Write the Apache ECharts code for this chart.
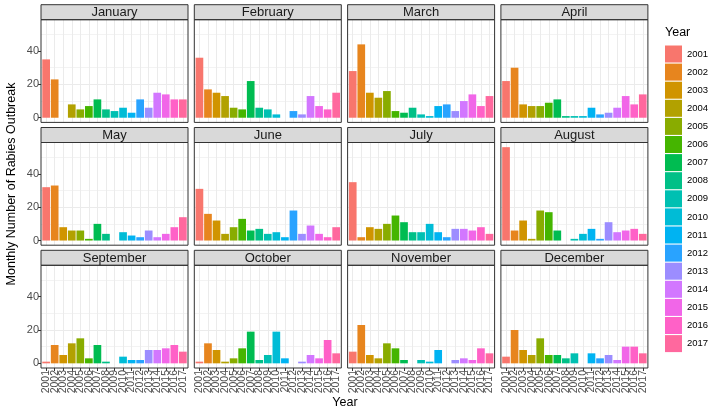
<!DOCTYPE html>
<html>
<head>
<meta charset="utf-8">
<script src="https://cdn.jsdelivr.net/npm/echarts@6/dist/echarts.min.js"></script>
<style>html,body{margin:0;padding:0;background:#fff}#c{width:710px;height:412px}</style>
</head>
<body>
<div id="c"></div>
<script>
// ---------- data ----------
const years = ['2001','2002','2003','2004','2005','2006','2007','2008','2009','2010','2011','2012','2013','2014','2015','2016','2017'];
const months = ['January','February','March','April','May','June','July','August','September','October','November','December'];
const january   = [35,23,0,8,5,7,11,5,4,6,3,11,6,15,14,11,11];
const february  = [36,17,15,13,6,5,22,6,5,2,0,4,2,13,7,5,15];
const march     = [28,44,15,12,16,4,3,6,2,1,7,8,4,10,14,7,13];
const april     = [22,30,8,7,7,9,11,1,1,1,6,2,3,6,13,8,14];
const may       = [32,33,8,6,6,1,10,4,0,5,3,2,6,2,4,8,14];
const june      = [31,16,12,4,8,13,6,7,4,5,2,18,4,9,4,2,8];
const july      = [35,2,8,7,10,15,11,5,5,10,5,2,7,7,6,8,4];
const august    = [56,6,12,1,18,17,6,0,1,4,7,1,11,5,6,7,4];
const september = [1,11,5,12,15,3,11,1,0,4,2,2,8,8,9,11,7];
const october   = [1,12,8,1,3,9,19,2,5,19,3,0,1,5,3,14,6];
const november  = [7,23,5,3,12,9,2,0,2,1,8,0,2,3,2,9,6];
const december  = [4,20,8,5,15,5,5,3,6,0,6,3,5,2,10,10,6];
const monthValues = [january,february,march,april,may,june,july,august,september,october,november,december];
const yTickValues = [0,20,40];

// ---------- style / layout ----------
const FONT = 'Liberation Sans, Arial, Helvetica, sans-serif';
const P = {left0:41, pitchX:153.3, width:147, top0:19.7, pitchY:122.8, height:102.7, strip:15};
const X_MIN = 0.4, X_MAX = 17.6;            // ggplot discrete expansion (0.6 each side)
const UNIT = P.width / (X_MAX - X_MIN);

function hclColor(h, c, l) {
  const WY = 100, Wu = 0.1978398, Wv = 0.4683363;
  const hr = h * Math.PI / 180;
  const U = c * Math.cos(hr), V = c * Math.sin(hr);
  const Y = WY * (l > 7.999592 ? Math.pow((l + 16) / 116, 3) : l / 903.3);
  const u = U / (13 * l) + Wu, v = V / (13 * l) + Wv;
  const X = 9.0 * Y * u / (4 * v);
  const Z = -X / 3 - 5 * Y + 3 * Y / v;
  const g = t => t > 0.00304 ? 1.055 * Math.pow(t, 1 / 2.4) - 0.055 : 12.92 * t;
  const ch = [
    g((3.240479 * X - 1.537150 * Y - 0.498535 * Z) / WY),
    g((-0.969256 * X + 1.875992 * Y + 0.041556 * Z) / WY),
    g((0.055648 * X - 0.204043 * Y + 1.057311 * Z) / WY)
  ];
  return '#' + ch.map(x => {
    const n = Math.round(Math.max(0, Math.min(1, x)) * 255);
    return n.toString(16).padStart(2, '0');
  }).join('');
}
const palette = years.map((_, j) => hclColor(15 + j * 360 / years.length, 100, 65));
const yearPos = years.map((_, j) => j + 1);

const grids = [], xAxes = [], yAxes = [], series = [], graphics = [];
months.forEach((m, i) => {
  const r = Math.floor(i / 4), c = i % 4;
  const left = P.left0 + c * P.pitchX, top = P.top0 + r * P.pitchY;
  grids.push({left: left, top: top, width: P.width, height: P.height, containLabel: false});
  xAxes.push({
    gridIndex: i, type: 'value', min: X_MIN, max: X_MAX, minInterval: 1, maxInterval: 1,
    axisLine: {show: false}, axisTick: {show: false}, axisLabel: {show: false},
    splitLine: {show: true, showMinLine: false, showMaxLine: false, lineStyle: {color: '#EBEBEB', width: 1}}
  });
  yAxes.push({
    gridIndex: i, type: 'value', min: -2.8, max: 58.8, minInterval: 20, maxInterval: 20, splitNumber: 3,
    axisLine: {show: false},
    axisTick: {show: c === 0, length: 3, customValues: yTickValues, lineStyle: {color: '#333333'}},
    axisLabel: {show: c === 0, customValues: yTickValues, margin: 2, fontSize: 11, color: '#4D4D4D', fontFamily: FONT},
    splitLine: {show: true, showMinLine: false, showMaxLine: false, lineStyle: {color: '#EBEBEB', width: 1}},
    minorTick: {show: false, splitNumber: 2},
    minorSplitLine: {show: true, lineStyle: {color: '#F3F3F3', width: 1}}
  });
  series.push({
    type: 'bar', xAxisIndex: i, yAxisIndex: i, barWidth: '90%', silent: true,
    data: monthValues[i].map((v, j) => ({value: [j + 1, v], itemStyle: {color: palette[j]}}))
  });
  graphics.push({type: 'rect', z: 100, shape: {x: left, y: top - P.strip, width: P.width, height: P.strip},
    style: {fill: '#D9D9D9', stroke: '#333333', lineWidth: 1}});
  graphics.push({type: 'text', z: 101, x: left + P.width / 2, y: top - P.strip / 2 + 0.5,
    style: {text: m, textAlign: 'center', textVerticalAlign: 'middle', fontSize: 13, fontFamily: FONT, fill: '#1A1A1A'}});
  graphics.push({type: 'rect', z: 100, shape: {x: left, y: top, width: P.width, height: P.height},
    style: {fill: 'none', stroke: '#333333', lineWidth: 1}});
});
// label-only category axes under the bottom row (aligned to the value axes' category centres)
for (let c = 0; c < 4; c++) {
  const gi = grids.length;
  const left = P.left0 + c * P.pitchX, top = P.top0 + 2 * P.pitchY;
  grids.push({left: left + (1 - X_MIN - 0.5) * UNIT, top: top, width: years.length * UNIT, height: P.height, containLabel: false});
  xAxes.push({
    gridIndex: gi, type: 'category', data: years, boundaryGap: true,
    axisLine: {show: false},
    axisTick: {show: true, alignWithLabel: true, interval: 0, length: 3, lineStyle: {color: '#333333'}},
    axisLabel: {interval: 0, rotate: 90, margin: 2, fontSize: 10.5, color: '#4D4D4D', fontFamily: FONT},
    splitLine: {show: false}
  });
  yAxes.push({gridIndex: gi, type: 'value', show: false});
}
years.forEach((y, j) => {
  series.push({type: 'scatter', name: y, xAxisIndex: 0, yAxisIndex: 0, data: [],
    itemStyle: {color: palette[j], opacity: 1}});
});
graphics.push({type: 'text', x: 12, y: 184, rotation: Math.PI / 2,
  style: {text: 'Monthly Number of Rabies Outbreak', textAlign: 'center', textVerticalAlign: 'middle',
    fontSize: 12.5, fontFamily: FONT, fill: '#000'}});
graphics.push({type: 'text', x: 345, y: 403,
  style: {text: 'Year', textAlign: 'center', textVerticalAlign: 'middle', fontSize: 12.5, fontFamily: FONT, fill: '#000'}});
graphics.push({type: 'text', x: 665, y: 33,
  style: {text: 'Year', textAlign: 'left', textVerticalAlign: 'middle', fontSize: 12.5, fontFamily: FONT, fill: '#000'}});

const chart = echarts.init(document.getElementById('c'), null, {renderer: 'canvas'});
chart.setOption({
  animation: false,
  backgroundColor: '#ffffff',
  textStyle: {fontFamily: FONT},
  grid: grids, xAxis: xAxes, yAxis: yAxes, series: series,
  legend: {
    orient: 'vertical', left: 665, top: 45.5, padding: 0,
    itemWidth: 17, itemHeight: 17, itemGap: 1.1, icon: 'rect', selectedMode: false,
    textStyle: {fontSize: 9.5, color: '#000', fontFamily: FONT},
    data: years
  },
  graphic: graphics
});
</script>
</body>
</html>
